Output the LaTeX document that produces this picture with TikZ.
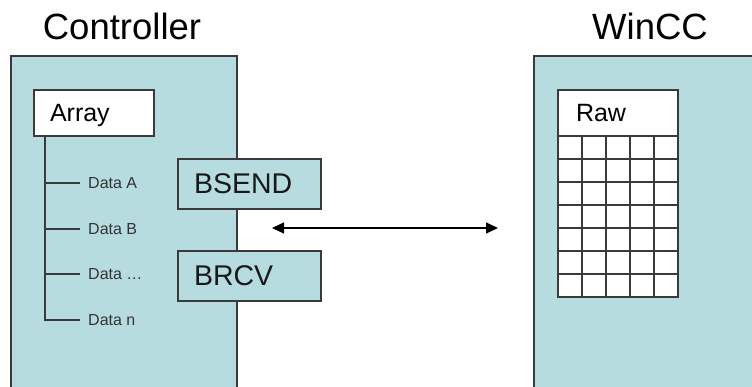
\documentclass[tikz,border=0pt]{standalone}
\usepackage{fontspec}
\setmainfont{Liberation Sans}
\usetikzlibrary{positioning,arrows.meta,calc}
\definecolor{lyseblaa}{HTML}{B6DCE0}
\definecolor{kant}{HTML}{3A3A3A}

\begin{document}
\begin{tikzpicture}[
  x=1pt, y=-1pt,
  omraade/.style={draw=kant, line width=1.5pt, fill=lyseblaa, outer sep=0pt, minimum width=240pt, minimum height=344pt, anchor=north west},
  tittel/.style={font=\fontsize{36.5}{40}\selectfont, text height=26pt, text depth=0pt, inner sep=0pt},
  boks/.style={draw=kant, line width=1.5pt, fill=white, outer sep=0pt, minimum width=120pt, minimum height=46pt, text width=88pt, align=left, inner xsep=16pt, font=\fontsize{25}{30}\selectfont, text height=18pt, text depth=0pt},
  blokk/.style={draw=kant, line width=1.5pt, fill=lyseblaa, outer sep=0pt, minimum width=143pt, minimum height=50pt, text width=111pt, align=left, inner xsep=16pt, font=\fontsize{28.5}{32}\selectfont, text height=20pt, text depth=0pt, text=black!90},
  data/.style={font=\fontsize{16}{18}\selectfont, text height=11.5pt, text depth=0pt, inner xsep=8pt, inner ysep=0pt, anchor=west, text=black!80},
  strek/.style={draw=kant, line width=1.5pt},
  pil/.style={{Triangle[length=12pt,width=11pt]}-{Triangle[length=12pt,width=11pt]}, line width=1.3pt}
]
\useasboundingbox (0,0) rectangle (752,387);
\clip (0,0) rectangle (752,387);
\node[omraade, minimum width=226pt] (kontroller) at (11,56) {};
\node[omraade] (wincc) at (534,56) {};
\node[tittel] (kontrollertittel) at (122,27) {Controller};
\node[tittel] (wincctittel) at (650,27) {WinCC};

% array med dataelementer
\node[boks, below right=34pt and 23pt of kontroller.north west] (array) {Array};
\coordinate (stamme) at ($(array.south west)+(11,0)$);
\node[data] (dataA) at (80,183) {Data A};
\node[data] (dataB) at (80,229) {Data B};
\node[data] (dataC) at (80,274) {Data …};
\node[data] (dataN) at (80,320) {Data n};
\draw[strek] (stamme) |- (dataN.west);
\foreach \d in {dataA,dataB,dataC}
  \draw[strek] (stamme |- \d.west) -- (\d.west);

\node[blokk, anchor=north west] (bsend) at (178,159) {BSEND};
\node[blokk, below=42pt of bsend] (brcv) {BRCV};

% tabell i WinCC
\node[boks, below right=34pt and 24pt of wincc.north west, inner xsep=18pt, text width=84pt] (raw) {Raw};
\node[strek, fill=white, minimum width=120pt, minimum height=161pt, outer sep=0pt, below=0pt of raw] (rutenett) {};
\foreach \i in {1,...,4}
  \draw[strek] ($(rutenett.north west)!\i/5!(rutenett.north east)$) -- ($(rutenett.south west)!\i/5!(rutenett.south east)$);
\foreach \j in {1,...,6}
  \draw[strek] ($(rutenett.north west)!\j/7!(rutenett.south west)$) -- ($(rutenett.north east)!\j/7!(rutenett.south east)$);

\coordinate (venstre) at (272,228);
\coordinate (hoyre) at (498,228);
\draw[pil] (venstre) -- (hoyre);
\end{tikzpicture}
\end{document}
